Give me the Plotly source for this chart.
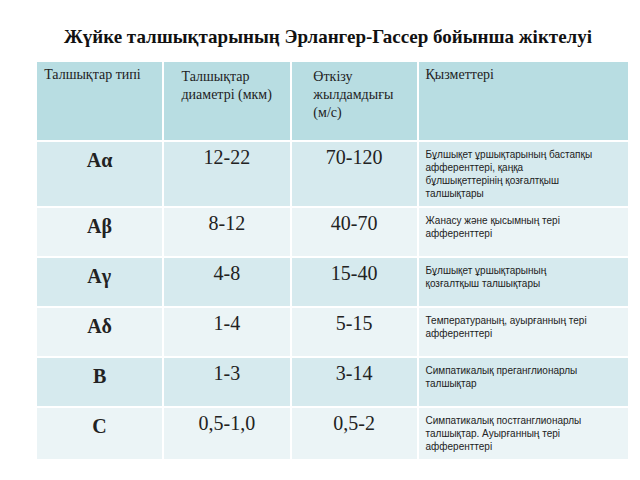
import plotly.graph_objects as go

title = "Жүйке талшықтарының Эрлангер-Гассер бойынша жіктелуі"
headers = ["Талшықтар типі", "Талшықтар<br>диаметрі (мкм)", "Өткізу<br>жылдамдығы<br>(м/с)", "Қызметтері"]
types = ["Aα", "Aβ", "Aγ", "Aδ", "B", "C"]
diam = ["12-22", "8-12", "4-8", "1-4", "1-3", "0,5-1,0"]
speed = ["70-120", "40-70", "15-40", "5-15", "3-14", "0,5-2"]
funcs = [
    "Бұлшықет ұршықтарының бастапқы<br>афференттері, қаңқа<br>бұлшықеттерінің қозғалтқыш<br>талшықтары",
    "Жанасу және қысымның тері<br>афференттері",
    "Бұлшықет ұршықтарының<br>қозғалтқыш талшықтары",
    "Температураның, ауырғанның тері<br>афференттері",
    "Симпатикалық преганглионарлы<br>талшықтар",
    "Симпатикалық постганглионарлы<br>талшықтар. Ауырғанның тері<br>афференттері",
]
row_colors = ["#d6eaee", "#ebf4f6"] * 3

fig = go.Figure(go.Table(
    columnwidth=[127, 128, 127, 212],
    header=dict(values=headers, fill_color="#b8dde2", line_color="white", line_width=2,
                align=["left", "center", "center", "left"], height=80,
                font=dict(family="Liberation Serif", size=14, color="#222")),
    cells=dict(values=[[f"<b>{t}</b>" for t in types], diam, speed, funcs],
               fill_color=[row_colors] * 4, line_color="white", line_width=2,
               align=["center", "center", "center", "left"], height=50,
               font=dict(family=["Liberation Serif"] * 3 + ["Liberation Sans"],
                         size=[20, 20, 20, 10], color="#222")),
    domain=dict(x=[0.044, 0.972], y=[0.0, 0.89]),
))
fig.update_layout(
    width=640, height=480, margin=dict(l=0, r=0, t=0, b=0), paper_bgcolor="white",
    title=dict(text=f"<b>{title}</b>", x=0.5, y=0.955, xanchor="center",
               font=dict(family="Liberation Serif", size=19, color="#111")),
)
fig.write_html("out.html")
